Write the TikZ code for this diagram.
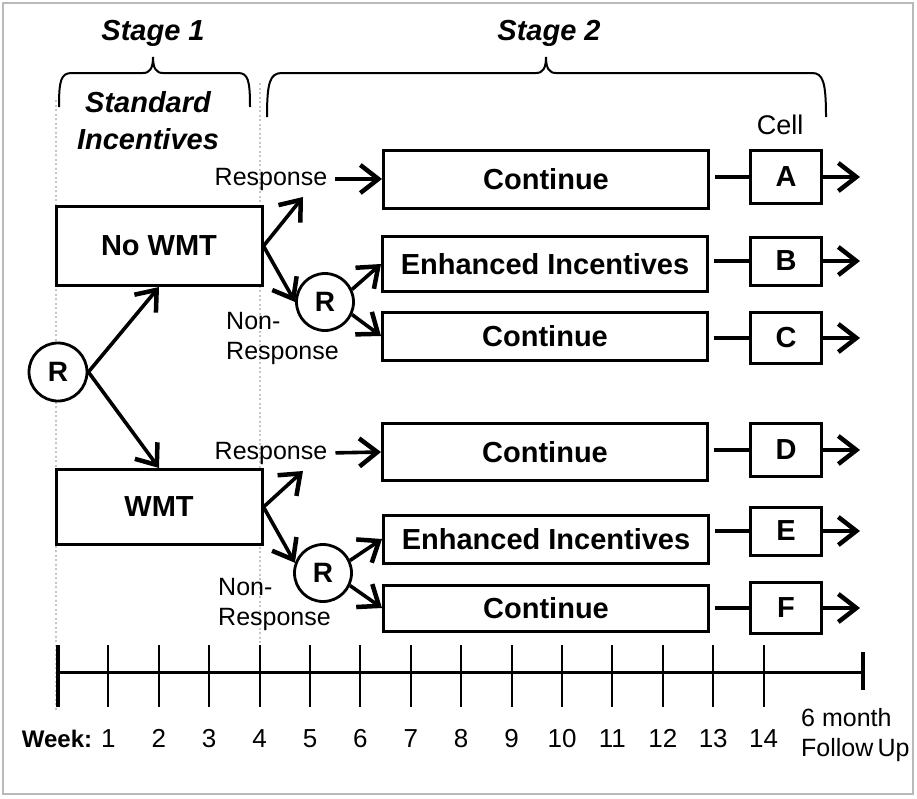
\documentclass[tikz,border=0pt]{standalone}
\usepackage{fontspec}
\setmainfont{Liberation Sans}
\usetikzlibrary{arrows.meta}

\def\fsz#1#2{\fontsize{#1}{#2}\selectfont}

\begin{document}
\begin{tikzpicture}[x=1pt, y=-1pt,
    box/.style={draw, line width=3pt, fill=white, inner sep=0pt, minimum width=325pt, font=\bfseries\fsz{29}{29}},
    cellbox/.style={draw, line width=3pt, fill=white, inner sep=0pt, minimum width=71pt, minimum height=51pt, font=\bfseries\fsz{29}{29}},
    rnode/.style={draw, circle, line width=2.8pt, fill=white, inner sep=0pt, minimum size=58pt, font=\bfseries\fsz{28}{28}},
    lbl/.style={inner sep=0pt, font=\fsz{25}{30}},
    arr/.style={line width=3.6pt, -{Straight Barb[length=18pt,width=28pt,line width=4.5pt]}},
    link/.style={line width=3.4pt, shorten <=5pt}]
      \useasboundingbox (0,0) rectangle (917,798);
      \draw[gray!55, line width=1.5pt] (3,3) rectangle (913,794);
      \draw[gray!45, line width=2.5pt, dash pattern=on 2pt off 2.5pt] (56,100) -- (56,712);
      \draw[gray!45, line width=2.5pt, dash pattern=on 2pt off 2.5pt] (260,83) -- (260,647);
      \node[font=\bfseries\itshape\fsz{29}{29}] (stage1) at (153,33) {Stage 1};
      \node[font=\bfseries\itshape\fsz{29}{29}] (stage2) at (549,33) {Stage 2};
      \draw[line width=2pt] (59,107) .. controls (59,80) and (61,73) .. (72,73) -- (143,73) .. controls (150,73) and (153,68) .. (153,57) .. controls (153,68) and (156,73) .. (163,73) -- (238,73) .. controls (248,73) and (250,80) .. (250,107);
      \draw[line width=2pt] (267,117) .. controls (267,82) and (270,73) .. (282,73) -- (536,73) .. controls (543,73) and (546,68) .. (546,57) .. controls (546,68) and (549,73) .. (556,73) -- (812,73) .. controls (823,73) and (826,82) .. (826,117);
      \node[align=center, font=\bfseries\itshape\fsz{29}{37}] (std) at (148,121) {Standard\\Incentives};
      \node[font=\fsz{27}{27}] (cell) at (780,125) {Cell};
      \node[box, minimum width=206pt, minimum height=79pt] (nowmt) at (159,246) {No WMT};
      \node[box, minimum width=206pt, minimum height=75pt] (wmt) at (159,507) {WMT};
      \node[rnode] (r0) at (58,372) {R};
      \node[rnode, minimum size=57pt] (r1) at (325,302) {R};
      \node[rnode, minimum size=57pt] (r2) at (323,573) {R};
      \node[lbl] (resp1) at (271,179) {Response};
      \node[lbl] (resp2) at (271,453) {Response};
      \node[lbl, align=left, anchor=west] (non1) at (226,338) {Non-\\Response};
      \node[lbl, align=left, anchor=west] (non2) at (218,604) {Non-\\Response};
      \coordinate (up1) at (303,197);
      \coordinate (up2) at (303,471);
      \node[box, minimum height=58pt] (contA) at (546,179) {Continue};
      \node[box, minimum height=55pt] (enhB) at (545,264) {Enhanced Incentives};
      \node[box, minimum height=48pt] (contC) at (545,336) {Continue};
      \node[box, minimum height=57pt] (contD) at (545,452) {Continue};
      \node[box, minimum height=48pt] (enhE) at (546,539) {Enhanced Incentives};
      \node[box, minimum height=46pt] (contF) at (546,608) {Continue};
      \node[cellbox, minimum height=53pt] (cellA) at (786,177) {A};
      \node[cellbox, minimum height=48pt] (cellB) at (786,261) {B};
      \node[cellbox] (cellC) at (786,338) {C};
      \node[cellbox, minimum height=53pt] (cellD) at (786,450) {D};
      \node[cellbox, minimum height=48pt] (cellE) at (786,531) {E};
      \node[cellbox] (cellF) at (786,608) {F};
      \draw[arr] (r0.east) -- (nowmt.south);
      \draw[arr] (r0.east) -- (wmt.north);
      \draw[arr] (nowmt.east) -- (up1);
      \draw[arr] (nowmt.east) -- (r1.west);
      \draw[arr] (wmt.east) -- (up2);
      \draw[arr] (wmt.east) -- (r2.160);
      \draw[arr] (r1.25) -- (enhB.west);
      \draw[arr] (r1.-25) -- (contC.west);
      \draw[arr] (r2.25) -- (enhE.west);
      \draw[arr] (r2.-25) -- (contF.west);
      \draw[arr, shorten <=8pt] (resp1.east) -- (contA.west);
      \draw[arr, shorten <=8pt] (resp2.east) -- (contD.west);
      \foreach \c/\b in {A/contA, B/enhB, C/contC, D/contD, E/enhE, F/contF} {
        \draw[link] (\b.east |- cell\c) -- (cell\c.west);
        \draw[arr] (cell\c.east) -- ++(37,0);
      }
      \draw[line width=3pt] (58,672) -- (863,672);
      \draw[line width=3.5pt] (58,645) -- (58,707);
      \draw[line width=3.5pt] (863,652) -- (863,690);
      \foreach \w in {1,...,14} {
        \draw[line width=2pt] (58+50.4*\w,645) -- (58+50.4*\w,707);
        \node[font=\fsz{26}{26}, anchor=base] (w\w) at (58+50.4*\w,747) {\w};
      }
      \node[font=\bfseries\fsz{24}{24}, anchor=base] (week) at (57,747) {Week:};
      \node[lbl, align=left, anchor=west] (fup) at (801,735) {6 month\\Follow\,Up};
\end{tikzpicture}
\end{document}
